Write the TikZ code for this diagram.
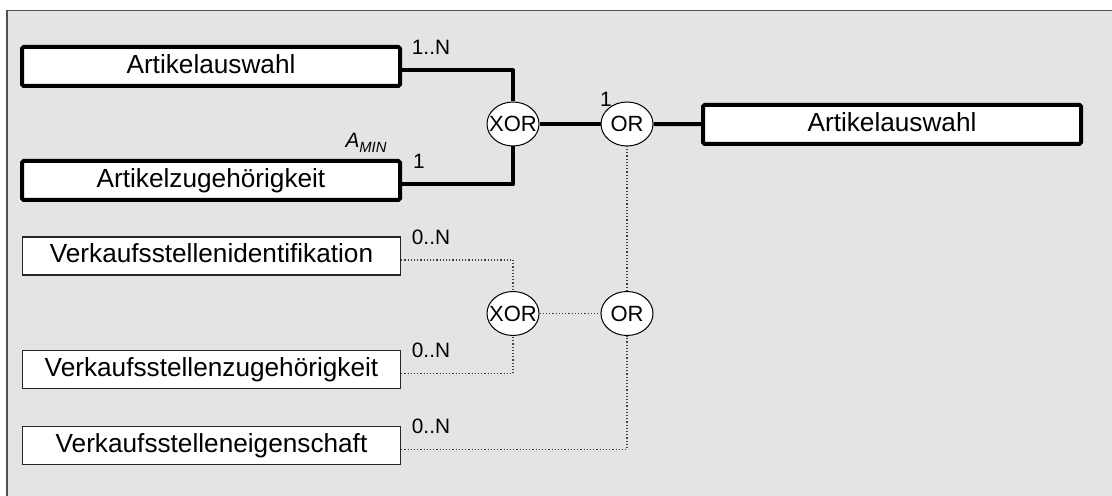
\documentclass[tikz,border=0pt]{standalone}
\usepackage{fontspec}
\setmainfont{Liberation Sans}
\usepackage{tikz}
\usetikzlibrary{shapes.geometric}
\usepackage{xcolor}
\definecolor{panel}{HTML}{E4E4E4}
\definecolor{rim}{HTML}{505050}

\begin{document}
\begin{tikzpicture}[
  x=0.5pt, y=-0.5pt,
  mainbox/.style={draw=black, fill=white, line width=2pt, rounded corners=0.8pt,
    minimum width=189pt, minimum height=19.5pt, inner sep=0pt,
    text height=9.4pt, text depth=2.75pt, font=\fontsize{13.1}{15}\selectfont},
  optbox/.style={draw=black!85, fill=white, line width=0.6pt,
    minimum width=189pt, minimum height=19pt, inner sep=0pt,
    text height=9.4pt, text depth=2.75pt, font=\fontsize{13.1}{15}\selectfont},
  gate/.style={ellipse, draw=black, fill=white, line width=0.5pt,
    minimum width=26pt, minimum height=22pt, inner sep=0pt,
    font=\fontsize{11}{12}\selectfont},
  card/.style={inner sep=0pt, font=\fontsize{10.4}{12}\selectfont},
  must/.style={line width=2pt, line join=round},
  may/.style={densely dotted, line width=0.6pt, draw=black!75}
]

% canvas and grey panel
\useasboundingbox (0,0) rectangle (1112,496);
\clip (0,0) rectangle (1112,496);
\fill[white] (0,0) rectangle (1112,496);
\draw[fill=panel, draw=rim, line width=0.6pt] (7,10.5) rectangle (1130,512);

% mandatory inputs and result
\node[mainbox] (artsel) at (211,66.5) {Artikelauswahl};
\node[mainbox] (artzug) at (211,180.5) {Artikelzugehörigkeit};
\node[mainbox] (artout) at (892,124.5) {Artikelauswahl};

% optional inputs
\node[optbox] (vkid)  at (211.5,256) {Verkaufsstellenidentifikation};
\node[optbox] (vkzug) at (211.5,369.5) {Verkaufsstellenzugehörigkeit};
\node[optbox] (vkeig) at (211.5,445.5) {Verkaufsstelleneigenschaft};

% gates
\node[gate] (xorA) at (513,124) {\makebox[0pt]{XOR}};
\node[gate] (orA)  at (627,124) {\makebox[0pt]{OR}};
\node[gate] (xorB) at (513,313.5) {\makebox[0pt]{XOR}};
\node[gate] (orB)  at (627,313.5) {\makebox[0pt]{OR}};

% thick links
\draw[must] ([yshift=-2pt]artsel.east) -| (xorA.north);
\draw[must] ([yshift=-2pt]artzug.east) -| (xorA.south);
\draw[must] (xorA) -- (orA);
\draw[must] (orA) -- (artout);

% dotted links
\draw[may] ([yshift=-2pt]vkid.east) -| (xorB.north);
\draw[may] ([yshift=-2pt]vkzug.east) -| (xorB.south);
\draw[may] (xorB) -- (orB);
\draw[may] (orB) -- (orA);
\draw[may] ([yshift=-2pt]vkeig.east) -| (orB.south);

% cardinalities
\node[card] (cA) at (431,47) {1..N};
\node[card] (cB) at (419,161) {1};
\node[card] (amin) at (366,143)
  {\textit{A}\raisebox{-0.4ex}{\fontsize{7.4}{8}\selectfont\textit{MIN}}};
\node[card] (cC) at (606,99) {1};
\node[card] (cD) at (431,237) {0..N};
\node[card] (cE) at (431,350) {0..N};
\node[card] (cF) at (431,426) {0..N};

\end{tikzpicture}
\end{document}
